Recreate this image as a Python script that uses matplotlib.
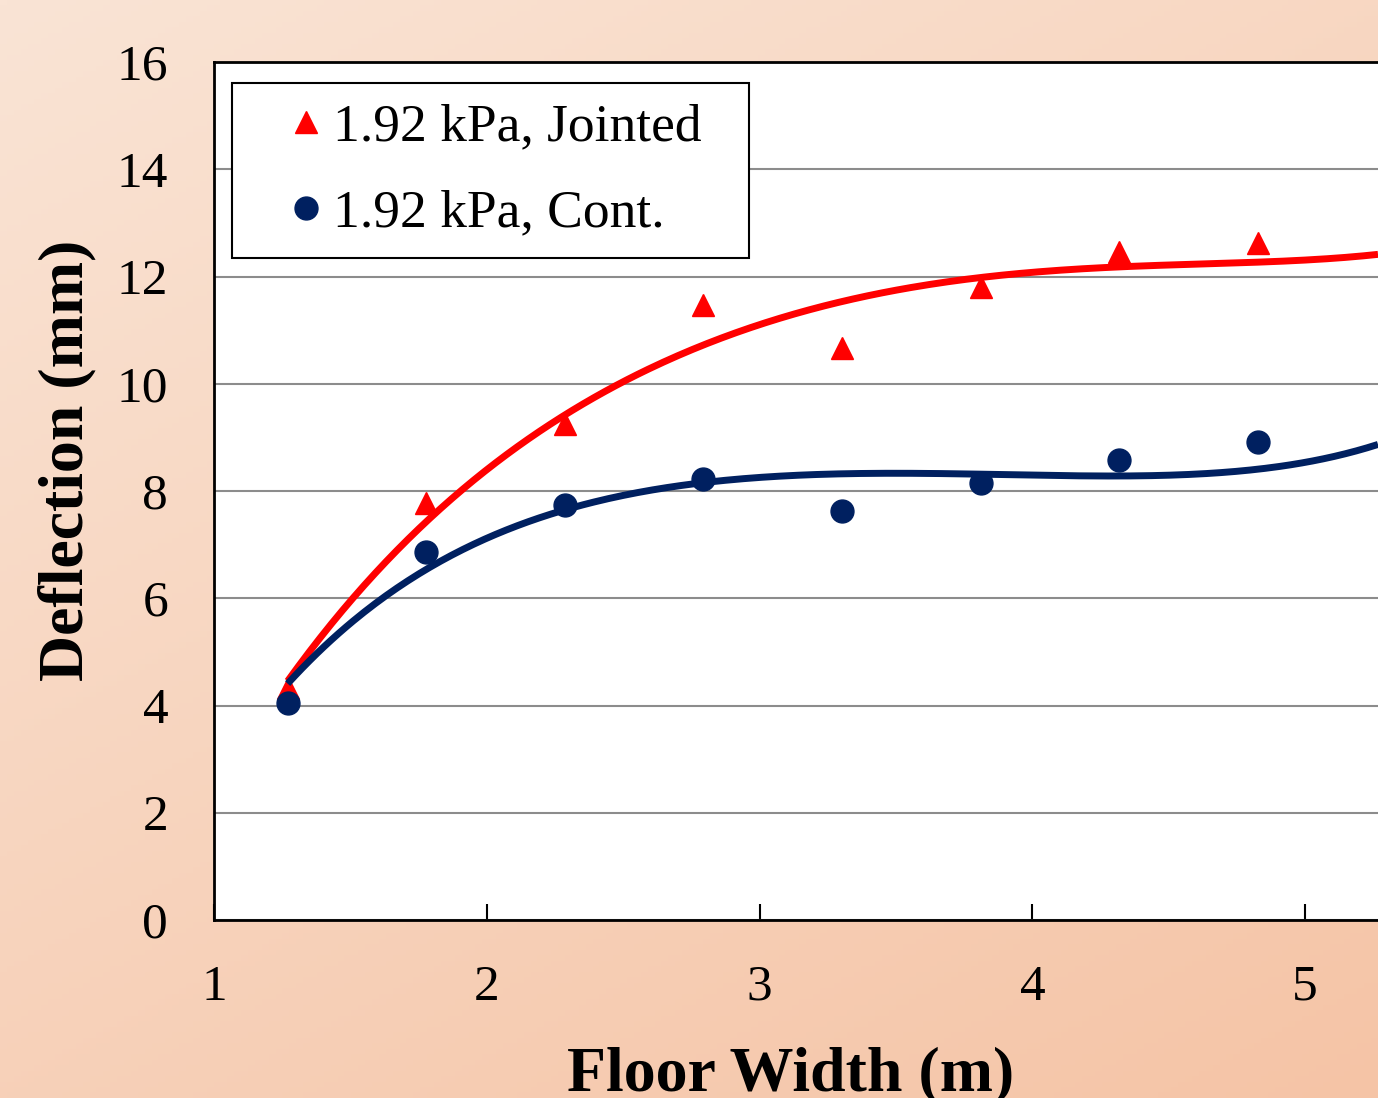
import numpy as np
import matplotlib
matplotlib.use("Agg")
from matplotlib import pyplot as plt

# floor widths (m) and measured deflections (mm)
widths = [1.27, 1.778, 2.286, 2.794, 3.302, 3.81, 4.318, 4.826]
jointed = [4.33, 7.78, 9.25, 11.47, 10.67, 11.81, 12.46, 12.63]
cont = [4.05, 6.87, 7.74, 8.23, 7.63, 8.15, 8.58, 8.92]
labels = ['1.92 kPa, Jointed', '1.92 kPa, Cont.']

# trend lines
trend_x = [1.27, 1.5, 1.778, 2.0, 2.286, 2.794, 3.302, 3.81, 4.318, 4.826, 5.267]
trend_jointed = [4.48, 5.88, 7.46, 8.45, 9.38, 10.69, 11.57, 11.98, 12.16, 12.28, 12.41]
trend_cont = [4.37, 5.60, 6.57, 7.05, 7.61, 8.21, 8.34, 8.28, 8.27, 8.43, 8.86]

yticks = [0, 2, 4, 6, 8, 10, 12, 14, 16]
xticks = [1, 2, 3, 4, 5]

plt.rcParams['font.family'] = ['Liberation Serif', 'DejaVu Serif']

W, H = 1378, 1098
fig = plt.figure(figsize=(W / 100, H / 100), dpi=100)

# peach gradient background
bg = fig.add_axes([0, 0, 1, 1], zorder=-10)
gx, gy = np.meshgrid(np.linspace(0, 1, 200), np.linspace(0, 1, 200))
t = np.clip(0.4 * gx + 0.6 * gy, 0, 1)[..., None]
c0 = np.array([250, 228, 213]) / 255
c1 = np.array([245, 196, 166]) / 255
bg.imshow(c0 + (c1 - c0) * t, aspect='auto', extent=[0, 1, 0, 1], origin='upper')
bg.axis('off')

ax = fig.add_axes([214 / W, 1 - 920 / H, 1 - 214 / W, (920 - 62) / H])
ax.set_facecolor('white')

red = '#ff0000'
navy = '#002060'
xs = np.linspace(trend_x[0], trend_x[-1], 300)
ax.plot(widths, jointed, '^', color=red, ms=16.5, ls='none', label=labels[0], zorder=3)
ax.plot(widths, cont, 'o', color=navy, ms=16.5, ls='none', label=labels[1], zorder=3)
ax.plot(xs, np.polyval(np.polyfit(trend_x, trend_jointed, 5), xs), color=red, lw=5, zorder=4,
        solid_capstyle='butt')
ax.plot(xs, np.polyval(np.polyfit(trend_x, trend_cont, 5), xs), color=navy, lw=5, zorder=4,
        solid_capstyle='butt')

ax.set_xlim(1, 5.267)
ax.set_ylim(0, 16)
ax.set_xticks(xticks)
ax.set_yticks(yticks)
ax.grid(axis='y', color='#8c8c8c', lw=1.5)
ax.set_axisbelow(True)
for s in ['left', 'bottom', 'top']:
    ax.spines[s].set_linewidth(2)
ax.spines['right'].set_visible(False)
ax.tick_params(axis='x', direction='in', length=11.5, width=1.5, labelsize=37, pad=32)
ax.tick_params(axis='y', length=0, labelsize=37, pad=33)

fig.text(67 / W, 1 - 460 / H, 'Deflection (mm)', rotation=90, ha='center', va='center',
         fontsize=46, fontweight='bold')
fig.text(791 / W, 1 - 1090 / H, 'Floor Width (m)', ha='center', va='baseline',
         fontsize=46, fontweight='bold')

leg = ax.legend(loc='upper left', bbox_to_anchor=(232 / W, 1 - 256 / H, (749 - 232) / W, (256 - 83) / H),
                bbox_transform=fig.transFigure, mode='expand', borderaxespad=0,
                fontsize=38.5, numpoints=1, handlelength=2.0, handletextpad=-0.5,
                borderpad=0.38, labelspacing=0.7, fancybox=False, framealpha=1,
                edgecolor='black')
leg.get_frame().set_linewidth(1.5)

fig.savefig('out.png', dpi=100)
